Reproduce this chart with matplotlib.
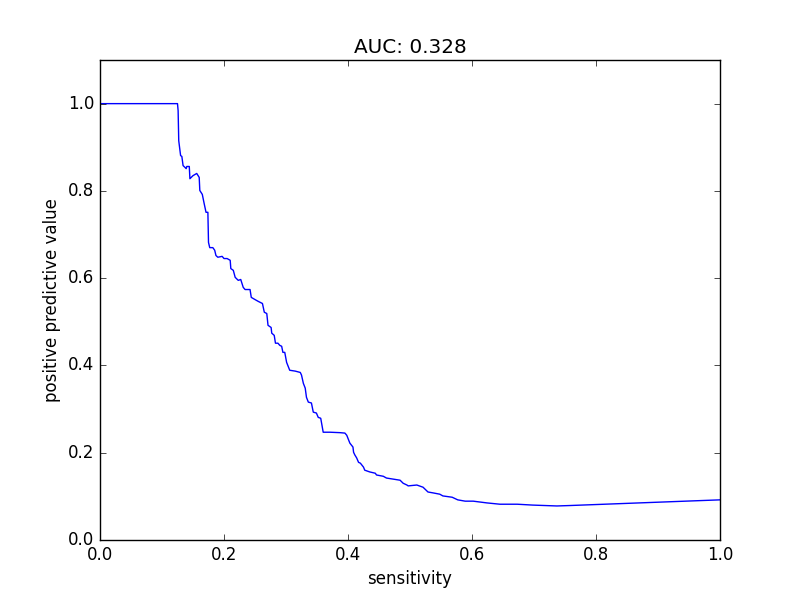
import matplotlib
matplotlib.use("Agg")
import matplotlib.pyplot as plt

# precision-recall style curve
sensitivity = [
    0.0, 0.125, 0.126, 0.127, 0.130, 0.132, 0.134, 0.137, 0.139, 0.140,
    0.144, 0.145, 0.150, 0.156, 0.160, 0.161, 0.165, 0.168, 0.171, 0.174,
    0.175, 0.177, 0.182, 0.185, 0.187, 0.190, 0.197, 0.200, 0.205, 0.210,
    0.211, 0.215, 0.218, 0.223, 0.227, 0.231, 0.234, 0.242, 0.244, 0.250,
    0.255, 0.262, 0.265, 0.269, 0.271, 0.276, 0.277, 0.281, 0.283, 0.287,
    0.290, 0.293, 0.295, 0.298, 0.301, 0.306, 0.315, 0.323, 0.325, 0.328,
    0.331, 0.333, 0.336, 0.341, 0.344, 0.349, 0.352, 0.356, 0.358, 0.360,
    0.371, 0.387, 0.395, 0.398, 0.403, 0.408, 0.409, 0.411, 0.414, 0.417,
    0.420, 0.425, 0.427, 0.435, 0.444, 0.446, 0.457, 0.462, 0.484, 0.489,
    0.495, 0.497, 0.511, 0.521, 0.529, 0.537, 0.548, 0.553, 0.568, 0.577,
    0.589, 0.602, 0.613, 0.624, 0.645, 0.673, 0.698, 0.737, 0.758, 1.0,
]
ppv = [
    1.0, 1.0, 0.984, 0.915, 0.881, 0.879, 0.858, 0.854, 0.851, 0.856,
    0.856, 0.828, 0.835, 0.840, 0.831, 0.801, 0.792, 0.771, 0.751, 0.751,
    0.682, 0.670, 0.670, 0.664, 0.652, 0.648, 0.650, 0.645, 0.645, 0.641,
    0.622, 0.618, 0.602, 0.595, 0.597, 0.579, 0.574, 0.574, 0.556, 0.551,
    0.547, 0.542, 0.522, 0.519, 0.492, 0.487, 0.474, 0.469, 0.451, 0.451,
    0.446, 0.444, 0.430, 0.430, 0.407, 0.389, 0.387, 0.384, 0.378, 0.359,
    0.348, 0.327, 0.316, 0.314, 0.293, 0.291, 0.281, 0.279, 0.263, 0.247,
    0.247, 0.246, 0.245, 0.240, 0.222, 0.213, 0.201, 0.195, 0.188, 0.178,
    0.176, 0.167, 0.160, 0.156, 0.153, 0.149, 0.146, 0.142, 0.137, 0.130,
    0.126, 0.124, 0.126, 0.121, 0.110, 0.108, 0.105, 0.101, 0.098, 0.092,
    0.089, 0.089, 0.087, 0.085, 0.082, 0.082, 0.080, 0.078, 0.079, 0.092,
]
auc = 0.328

plt.style.use("classic")
fig = plt.figure(figsize=(8, 6), dpi=100, facecolor="white")
ax = fig.add_subplot(111)
ax.plot(sensitivity, ppv, color="b", linewidth=1)
ax.set_xlim(0, 1.0)
ax.set_ylim(0, 1.1)
ax.set_xlabel("sensitivity")
ax.set_ylabel("positive predictive value")
ax.set_title("AUC: %.3f" % auc)
fig.savefig("out.png", dpi=100, facecolor="white")
